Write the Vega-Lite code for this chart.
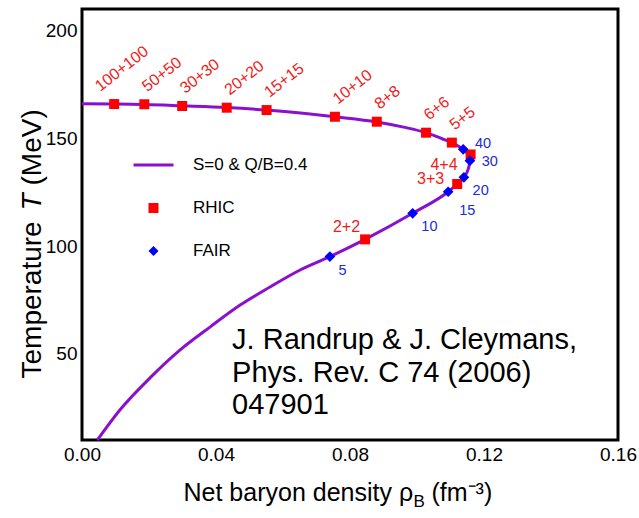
{
  "$schema": "https://vega.github.io/schema/vega-lite/v6.json",
  "width": 536,
  "height": 431,
  "autosize": "none",
  "padding": {"left": 82, "top": 9, "right": 21, "bottom": 78},
  "background": "white",
  "config": {
    "view": {"stroke": "black", "strokeWidth": 3},
    "font": "Liberation Sans",
    "axis": {
      "domain": false,
      "ticks": false,
      "grid": false,
      "labelFont": "Liberation Sans",
      "labelFontSize": 19,
      "labelColor": "black",
      "labelFlush": false,
      "labelOverlap": false,
      "labelBound": false,
      "titleFont": "Liberation Sans",
      "titleFontWeight": "normal",
      "titleColor": "black",
      "titleLimit": 1000
    }
  },
  "datasets": {
    "curve": [
      {"i": 0, "rho": 0.0, "T": 166.0},
      {"i": 1, "rho": 0.0096, "T": 165.9},
      {"i": 2, "rho": 0.0186, "T": 165.7},
      {"i": 3, "rho": 0.0299, "T": 165.1},
      {"i": 4, "rho": 0.0432, "T": 164.3},
      {"i": 5, "rho": 0.0551, "T": 163.1},
      {"i": 6, "rho": 0.066, "T": 161.6},
      {"i": 7, "rho": 0.0755, "T": 160.0},
      {"i": 8, "rho": 0.088, "T": 157.6},
      {"i": 9, "rho": 0.096, "T": 155.2},
      {"i": 10, "rho": 0.1027, "T": 152.6},
      {"i": 11, "rho": 0.1075, "T": 149.8},
      {"i": 12, "rho": 0.1104, "T": 148.0},
      {"i": 13, "rho": 0.1138, "T": 144.9},
      {"i": 14, "rho": 0.1159, "T": 142.4},
      {"i": 15, "rho": 0.1158, "T": 139.6},
      {"i": 16, "rho": 0.1153, "T": 135.8},
      {"i": 17, "rho": 0.114, "T": 131.9},
      {"i": 18, "rho": 0.112, "T": 128.8},
      {"i": 19, "rho": 0.1093, "T": 125.2},
      {"i": 20, "rho": 0.0987, "T": 115.2},
      {"i": 21, "rho": 0.0845, "T": 103.1},
      {"i": 22, "rho": 0.074, "T": 95.1},
      {"i": 23, "rho": 0.0651, "T": 88.9},
      {"i": 24, "rho": 0.0561, "T": 81.0},
      {"i": 25, "rho": 0.0472, "T": 72.6},
      {"i": 26, "rho": 0.0382, "T": 62.4},
      {"i": 27, "rho": 0.0293, "T": 51.8},
      {"i": 28, "rho": 0.0203, "T": 38.8},
      {"i": 29, "rho": 0.0113, "T": 23.9},
      {"i": 30, "rho": 0.0046, "T": 10.0}
    ],
    "points": [
      {"series": "RHIC", "label": "100+100", "rho": 0.0096, "T": 165.9},
      {"series": "RHIC", "label": "50+50", "rho": 0.0186, "T": 165.8},
      {"series": "RHIC", "label": "30+30", "rho": 0.0299, "T": 165.0},
      {"series": "RHIC", "label": "20+20", "rho": 0.0432, "T": 164.2},
      {"series": "RHIC", "label": "15+15", "rho": 0.0551, "T": 163.1},
      {"series": "RHIC", "label": "10+10", "rho": 0.0755, "T": 160.0},
      {"series": "RHIC", "label": "8+8", "rho": 0.088, "T": 157.7},
      {"series": "RHIC", "label": "6+6", "rho": 0.1027, "T": 152.6},
      {"series": "RHIC", "label": "5+5", "rho": 0.1104, "T": 148.0},
      {"series": "RHIC", "label": "4+4", "rho": 0.116, "T": 142.5},
      {"series": "RHIC", "label": "3+3", "rho": 0.112, "T": 128.8},
      {"series": "RHIC", "label": "2+2", "rho": 0.0845, "T": 103.1},
      {"series": "FAIR", "label": "40", "rho": 0.1138, "T": 144.9},
      {"series": "FAIR", "label": "30", "rho": 0.1158, "T": 139.6},
      {"series": "FAIR", "label": "20", "rho": 0.114, "T": 131.9},
      {"series": "FAIR", "label": "15", "rho": 0.1093, "T": 125.2},
      {"series": "FAIR", "label": "10", "rho": 0.0987, "T": 115.2},
      {"series": "FAIR", "label": "5", "rho": 0.074, "T": 95.1}
    ],
    "note": [
      {"text": "J. Randrup & J. Cleymans,\nPhys. Rev. C 74 (2006)\n047901", "rho": 0.0448, "T": 52.1}
    ],
    "xticks": [
      {"rho": 0.0}, {"rho": 0.01}, {"rho": 0.02}, {"rho": 0.03}, {"rho": 0.04}, {"rho": 0.05},
      {"rho": 0.06}, {"rho": 0.07}, {"rho": 0.08}, {"rho": 0.09}, {"rho": 0.1}, {"rho": 0.11},
      {"rho": 0.12}, {"rho": 0.13}, {"rho": 0.14}, {"rho": 0.15}, {"rho": 0.16}
    ],
    "yticks": [
      {"T": 20}, {"T": 30}, {"T": 40}, {"T": 50}, {"T": 60}, {"T": 70}, {"T": 80}, {"T": 90}, {"T": 100},
      {"T": 110}, {"T": 120}, {"T": 130}, {"T": 140}, {"T": 150}, {"T": 160}, {"T": 170}, {"T": 180},
      {"T": 190}, {"T": 200}
    ]
  },
  "resolve": {"axis": {"x": "independent", "y": "independent"}},
  "encoding": {
    "x": {"field": "rho", "type": "quantitative", "scale": {"domain": [0, 0.16], "nice": false, "zero": false}, "axis": null},
    "y": {"field": "T", "type": "quantitative", "scale": {"domain": [10, 210], "nice": false, "zero": false}, "axis": null}
  },
  "layer": [
    {
      "data": {"name": "xticks"},
      "transform": [{"filter": "abs(datum.rho * 25 - round(datum.rho * 25)) < 1e-6"}],
      "mark": {"type": "point", "shape": "M-0.21,0L0.21,0L0.21,-2L-0.21,-2Z", "size": 144, "filled": true, "strokeWidth": 0, "color": "black", "opacity": 1},
      "encoding": {"y": {"datum": 10, "type": "quantitative", "axis": null}}
    },
    {
      "data": {"name": "xticks"},
      "transform": [{"filter": "abs(datum.rho * 25 - round(datum.rho * 25)) < 1e-6"}],
      "mark": {"type": "point", "shape": "M-0.21,0L0.21,0L0.21,2L-0.21,2Z", "size": 144, "filled": true, "strokeWidth": 0, "color": "black", "opacity": 1},
      "encoding": {"y": {"datum": 210, "type": "quantitative", "axis": null}}
    },
    {
      "data": {"name": "xticks"},
      "transform": [{"filter": "abs(datum.rho * 25 - round(datum.rho * 25)) >= 1e-6"}],
      "mark": {"type": "point", "shape": "M-0.36,0L0.36,0L0.36,-2L-0.36,-2Z", "size": 49, "filled": true, "strokeWidth": 0, "color": "black", "opacity": 1},
      "encoding": {"y": {"datum": 10, "type": "quantitative", "axis": null}}
    },
    {
      "data": {"name": "xticks"},
      "transform": [{"filter": "abs(datum.rho * 25 - round(datum.rho * 25)) >= 1e-6"}],
      "mark": {"type": "point", "shape": "M-0.36,0L0.36,0L0.36,2L-0.36,2Z", "size": 49, "filled": true, "strokeWidth": 0, "color": "black", "opacity": 1},
      "encoding": {"y": {"datum": 210, "type": "quantitative", "axis": null}}
    },
    {
      "data": {"name": "yticks"},
      "transform": [{"filter": "datum.T % 50 === 0"}],
      "mark": {"type": "point", "shape": "M0,-0.21L2,-0.21L2,0.21L0,0.21Z", "size": 144, "filled": true, "strokeWidth": 0, "color": "black", "opacity": 1},
      "encoding": {"x": {"datum": 0, "type": "quantitative", "axis": null}}
    },
    {
      "data": {"name": "yticks"},
      "transform": [{"filter": "datum.T % 50 === 0"}],
      "mark": {"type": "point", "shape": "M0,-0.21L-2,-0.21L-2,0.21L0,0.21Z", "size": 144, "filled": true, "strokeWidth": 0, "color": "black", "opacity": 1},
      "encoding": {"x": {"datum": 0.16, "type": "quantitative", "axis": null}}
    },
    {
      "data": {"name": "yticks"},
      "transform": [{"filter": "datum.T % 50 !== 0"}],
      "mark": {"type": "point", "shape": "M0,-0.36L2,-0.36L2,0.36L0,0.36Z", "size": 49, "filled": true, "strokeWidth": 0, "color": "black", "opacity": 1},
      "encoding": {"x": {"datum": 0, "type": "quantitative", "axis": null}}
    },
    {
      "data": {"name": "yticks"},
      "transform": [{"filter": "datum.T % 50 !== 0"}],
      "mark": {"type": "point", "shape": "M0,-0.36L-2,-0.36L-2,0.36L0,0.36Z", "size": 49, "filled": true, "strokeWidth": 0, "color": "black", "opacity": 1},
      "encoding": {"x": {"datum": 0.16, "type": "quantitative", "axis": null}}
    },
    {
      "data": {"name": "curve"},
      "mark": {"type": "line", "strokeWidth": 3, "interpolate": "monotone", "color": "#8a10d0"},
      "encoding": {
        "x": {
          "field": "rho", "type": "quantitative",
          "scale": {"domain": [0, 0.16], "nice": false, "zero": false},
          "axis": {
            "orient": "bottom",
            "values": [0, 0.04, 0.08, 0.12, 0.16],
            "format": ".2f",
            "labelPadding": 5,
            "title": "Net baryon density ρ",
            "titleFontSize": 25,
            "titleX": 101,
            "titleY": 60,
            "titleAlign": "left",
            "titleBaseline": "alphabetic"
          }
        },
        "y": {
          "field": "T", "type": "quantitative",
          "scale": {"domain": [10, 210], "nice": false, "zero": false},
          "axis": {
            "orient": "left",
            "values": [50, 100, 150, 200],
            "labelPadding": 5,
            "title": "Temperature",
            "titleFontSize": 28,
            "titleAngle": 270,
            "titleX": -42,
            "titleY": 369,
            "titleAlign": "left",
            "titleBaseline": "alphabetic"
          }
        },
        "order": {"field": "i", "type": "quantitative"}
      }
    },
    {
      "data": {"name": "points"},
      "transform": [{"filter": "datum.series === 'RHIC'"}],
      "mark": {"type": "point", "filled": true, "size": 100, "opacity": 1, "strokeWidth": 0},
      "encoding": {
        "x": {
          "field": "rho", "type": "quantitative",
          "scale": {"domain": [0, 0.16], "nice": false, "zero": false},
          "axis": {
            "orient": "top",
            "values": [0.08],
            "labels": false,
            "title": "B",
            "titleFontSize": 17,
            "titleX": 331,
            "titleY": 497,
            "titleAlign": "left",
            "titleBaseline": "alphabetic"
          }
        },
        "y": {
          "field": "T", "type": "quantitative",
          "scale": {"domain": [10, 210], "nice": false, "zero": false},
          "axis": {
            "orient": "right",
            "values": [100],
            "labels": false,
            "title": "T",
            "titleFontSize": 28,
            "titleFontStyle": "italic",
            "titleAngle": 270,
            "titleX": -578,
            "titleY": 201,
            "titleAlign": "left",
            "titleBaseline": "alphabetic"
          }
        },
        "color": {
          "field": "series", "type": "nominal",
          "scale": {"domain": ["S=0 & Q/B=0.4", "RHIC", "FAIR"], "range": ["#8a10d0", "#ff0000", "#0000ff"]},
          "legend": {
            "orient": "none",
            "legendX": 63,
            "legendY": 147.5,
            "title": null,
            "symbolSize": 100,
            "rowPadding": 25,
            "labelOffset": 31,
            "labelFont": "Liberation Sans",
            "labelFontSize": 17,
            "labelColor": "black",
            "labelBaseline": "middle",
            "symbolOpacity": 1,
            "symbolStrokeWidth": 0
          }
        },
        "shape": {
          "field": "series", "type": "nominal",
          "scale": {"domain": ["S=0 & Q/B=0.4", "RHIC", "FAIR"], "range": ["M-4,-0.3L4,-0.3L4,0.3L-4,0.3Z", "square", "diamond"]}
        }
      }
    },
    {
      "data": {"name": "points"},
      "transform": [{"filter": "datum.series === 'FAIR'"}],
      "mark": {"type": "point", "filled": true, "size": 115, "opacity": 1, "strokeWidth": 0},
      "encoding": {
        "x": {
          "field": "rho", "type": "quantitative",
          "scale": {"domain": [0, 0.16], "nice": false, "zero": false},
          "axis": {
            "orient": "bottom",
            "values": [0.08],
            "labels": false,
            "title": "(fm⁻³)",
            "titleFontSize": 25,
            "titleX": 349,
            "titleY": 60,
            "titleAlign": "left",
            "titleBaseline": "alphabetic"
          }
        },
        "y": {
          "field": "T", "type": "quantitative",
          "scale": {"domain": [10, 210], "nice": false, "zero": false},
          "axis": {
            "orient": "left",
            "values": [100],
            "labels": false,
            "title": "(MeV)",
            "titleFontSize": 28,
            "titleAngle": 270,
            "titleX": -42,
            "titleY": 176,
            "titleAlign": "left",
            "titleBaseline": "alphabetic"
          }
        },
        "color": {"field": "series", "type": "nominal"},
        "shape": {"field": "series", "type": "nominal"}
      }
    },
    {
      "data": {"name": "note"},
      "mark": {"type": "text", "align": "left", "baseline": "alphabetic", "fontSize": 29, "lineHeight": 32.5, "lineBreak": "\n", "color": "black", "font": "Liberation Sans"},
      "encoding": {
        "text": {"field": "text"},
        "x": {"field": "rho", "type": "quantitative", "axis": null},
        "y": {"field": "T", "type": "quantitative", "axis": null}
      }
    },
    {
      "data": {"name": "points"},
      "transform": [{"filter": {"and": [{"field": "series", "equal": "RHIC"}, {"not": {"field": "label", "oneOf": ["100+100", "4+4", "3+3", "2+2"]}}]}}],
      "mark": {"type": "text", "angle": 322, "align": "left", "baseline": "alphabetic", "dx": 9.75, "dy": -7.6, "fontSize": 16, "color": "#ee1c1c", "font": "Liberation Sans"},
      "encoding": {"text": {"field": "label"}}
    },
    {
      "data": {"name": "points"},
      "transform": [{"filter": {"field": "label", "equal": "100+100"}}],
      "mark": {"type": "text", "angle": 322, "align": "left", "baseline": "alphabetic", "dx": -3.6, "dy": -18.1, "fontSize": 16, "color": "#ee1c1c", "font": "Liberation Sans"},
      "encoding": {"text": {"field": "label"}}
    },
    {
      "data": {"name": "points"},
      "transform": [{"filter": {"field": "label", "equal": "4+4"}}],
      "mark": {"type": "text", "align": "right", "baseline": "alphabetic", "dx": -13, "dy": 15.5, "fontSize": 16, "color": "#ee1c1c", "font": "Liberation Sans"},
      "encoding": {"text": {"field": "label"}}
    },
    {
      "data": {"name": "points"},
      "transform": [{"filter": {"field": "label", "equal": "3+3"}}],
      "mark": {"type": "text", "align": "right", "baseline": "alphabetic", "dx": -13, "dy": 0, "fontSize": 16, "color": "#ee1c1c", "font": "Liberation Sans"},
      "encoding": {"text": {"field": "label"}}
    },
    {
      "data": {"name": "points"},
      "transform": [{"filter": {"field": "label", "equal": "2+2"}}],
      "mark": {"type": "text", "align": "right", "baseline": "alphabetic", "dx": -5, "dy": -7.5, "fontSize": 16, "color": "#ee1c1c", "font": "Liberation Sans"},
      "encoding": {"text": {"field": "label"}}
    },
    {
      "data": {"name": "points"},
      "transform": [{"filter": {"and": [{"field": "series", "equal": "FAIR"}, {"field": "label", "equal": "40"}]}}],
      "mark": {"type": "text", "align": "left", "baseline": "alphabetic", "dx": 11.7, "dy": -1, "fontSize": 14.5, "color": "#1c2ad8", "font": "Liberation Sans"},
      "encoding": {"text": {"field": "label"}}
    },
    {
      "data": {"name": "points"},
      "transform": [{"filter": {"and": [{"field": "series", "equal": "FAIR"}, {"field": "label", "equal": "30"}]}}],
      "mark": {"type": "text", "align": "left", "baseline": "alphabetic", "dx": 11.7, "dy": 5.3, "fontSize": 14.5, "color": "#1c2ad8", "font": "Liberation Sans"},
      "encoding": {"text": {"field": "label"}}
    },
    {
      "data": {"name": "points"},
      "transform": [{"filter": {"and": [{"field": "series", "equal": "FAIR"}, {"field": "label", "oneOf": ["20", "10", "5"]}]}}],
      "mark": {"type": "text", "align": "left", "baseline": "alphabetic", "dx": 8.7, "dy": 18, "fontSize": 14.5, "color": "#1c2ad8", "font": "Liberation Sans"},
      "encoding": {"text": {"field": "label"}}
    },
    {
      "data": {"name": "points"},
      "transform": [{"filter": {"and": [{"field": "series", "equal": "FAIR"}, {"field": "label", "equal": "15"}]}}],
      "mark": {"type": "text", "align": "left", "baseline": "alphabetic", "dx": 11, "dy": 23.3, "fontSize": 14.5, "color": "#1c2ad8", "font": "Liberation Sans"},
      "encoding": {"text": {"field": "label"}}
    }
  ]
}
